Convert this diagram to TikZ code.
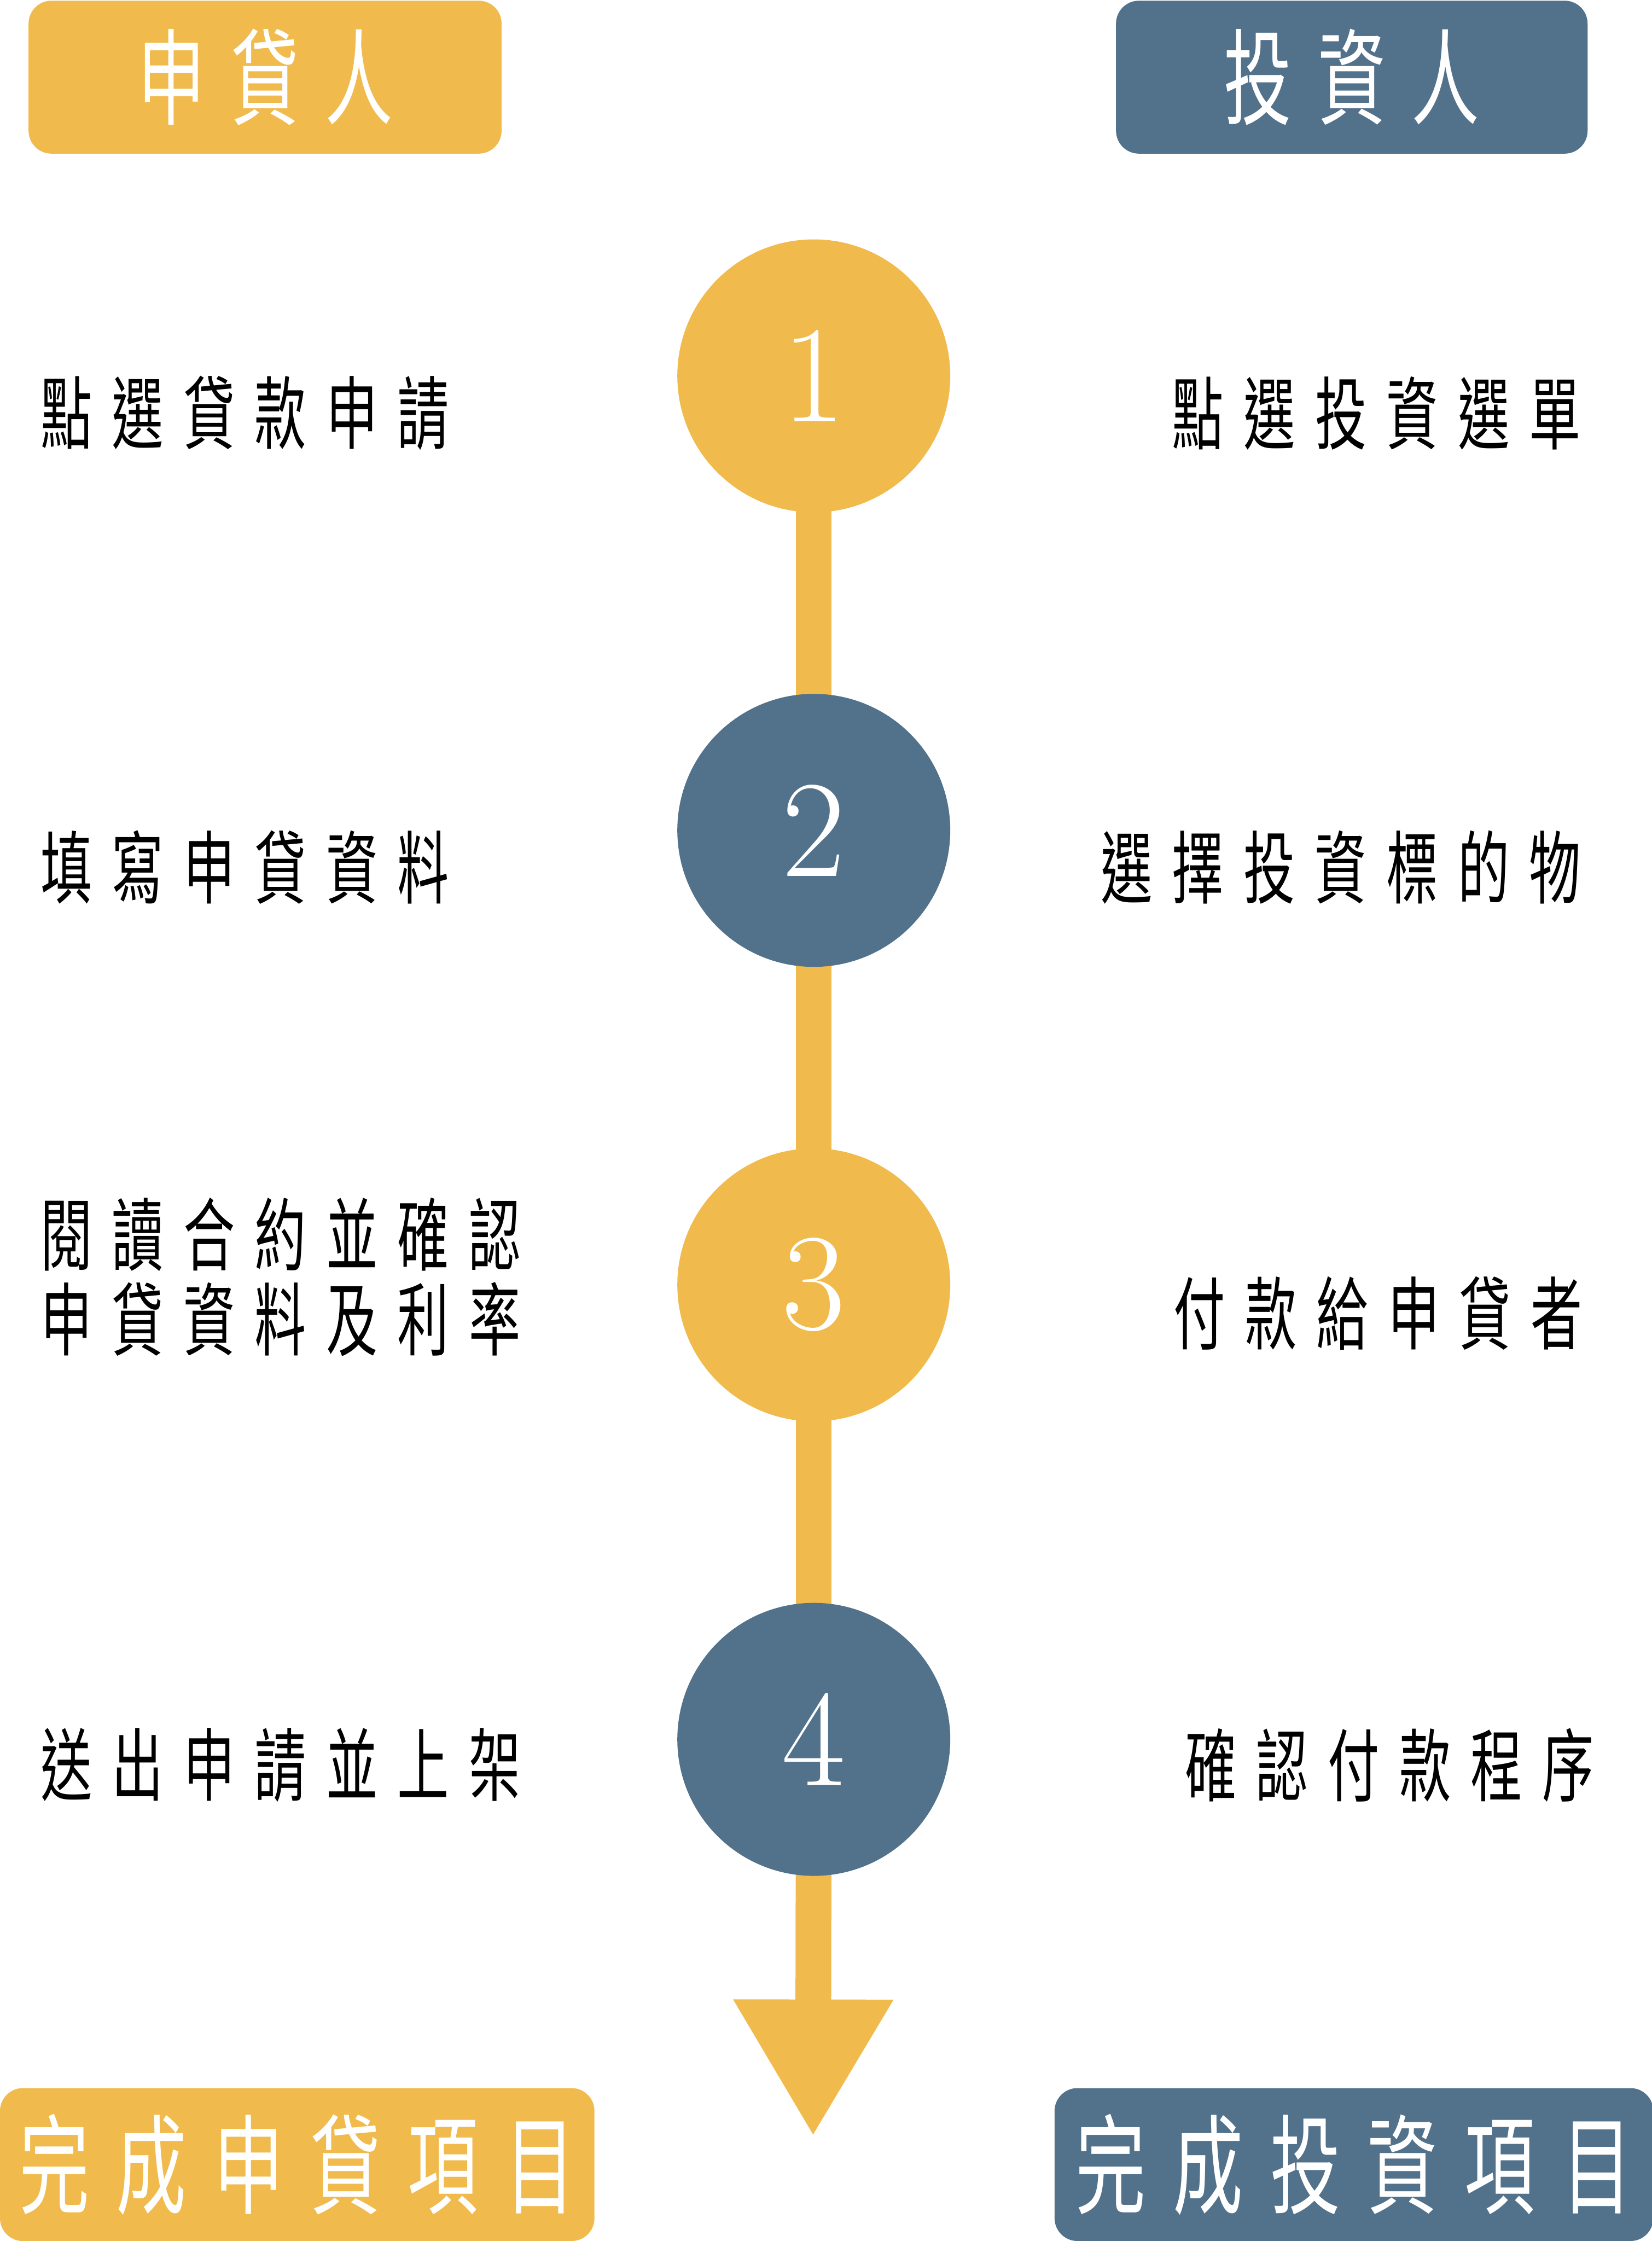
\documentclass[tikz,border=0pt]{standalone}
\usepackage{fontspec}
\usepackage{tikz}
\usetikzlibrary{arrows.meta, positioning, backgrounds}
\newfontfamily\cjk[FakeStretch=0.65, LetterSpace=25]{Noto Sans CJK TC}
\definecolor{loanyellow}{RGB}{241,186,76}
\definecolor{investblue}{RGB}{82,113,139}
\tikzset{
  rolebox/.style  = {rounded corners=3.2mm, minimum height=21.4mm, inner sep=0pt,
                     text=white, font=\cjk\fontsize{41.5}{44}\selectfont},
  donebox/.style  = {rolebox, font=\cjk\fontsize{43}{46}\selectfont},
  stepdot/.style  = {circle, minimum size=38.2mm, inner sep=0pt, text=white,
                     font=\fontsize{55}{60}\selectfont},
  yellowdot/.style = {stepdot, fill=loanyellow},
  bluedot/.style   = {stepdot, fill=investblue},
  steptext/.style = {anchor=west, inner sep=0pt, align=left,
                     font=\cjk\fontsize{31.6}{33.9}\selectfont},
  timeline/.style = {line width=5mm, loanyellow},
}

\begin{document}
\begin{tikzpicture}[x=0.2mm, y=-0.2mm]
    \useasboundingbox (0,0) rectangle (1156,1568);

    % headers
    \node[rolebox, fill=loanyellow, minimum width=66.2mm] (lender)   at (185.5,54) {申貸人};
    \node[rolebox, fill=investblue, minimum width=66mm]   (investor) at (946,54)   {投資人};

    % steps
    \node[yellowdot] (s1) at (569.5,263)  {1};
    \node[bluedot]   (s2) at (569.5,581)  {2};
    \node[yellowdot] (s3) at (569.5,899)  {3};
    \node[bluedot]   (s4) at (569.5,1217) {4};
    \coordinate (tip) at (569,1495);

    \begin{scope}[on background layer]
      \draw[timeline] (s1.center) -- (s4.center);
      \draw[timeline, -{Triangle[width=21mm, length=19.2mm]}] (s4.center) -- (tip);
    \end{scope}

    % lender side
    \node[steptext] (l1) at (28,289)   {點選貸款申請};
    \node[steptext] (l2) at (28,607)   {填寫申貸資料};
    \node[steptext] (l3) at (28,893.5) {閱讀合約並確認\\申貸資料及利率};
    \node[steptext] (l4) at (28,1235)  {送出申請並上架};

    % investor side
    \node[steptext] (r1) at (820,289)  {點選投資選單};
    \node[steptext] (r2) at (770,607)  {選擇投資標的物};
    \node[steptext] (r3) at (821,919)  {付款給申貸者};
    \node[steptext] (r4) at (829,1235) {確認付款程序};

    % results
    \node[donebox, fill=loanyellow, minimum width=83.2mm] (lenderdone)   at (208,1514.5)   {完成申貸項目};
    \node[donebox, fill=investblue, minimum width=83.8mm] (investordone) at (947.5,1514.5) {完成投資項目};
\end{tikzpicture}
\end{document}
